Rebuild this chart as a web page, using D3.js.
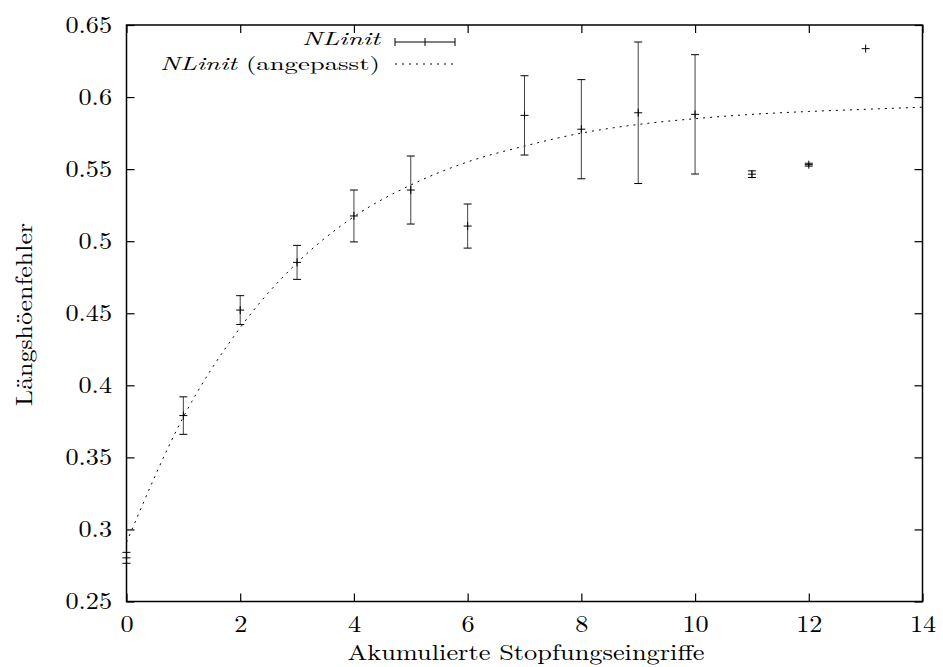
<!DOCTYPE html>
<html>
<head>
<meta charset="utf-8">
<script src="https://cdn.jsdelivr.net/npm/d3@7"></script>
<style>
  html, body { margin: 0; padding: 0; background: #fff; }
  svg { display: block; }
</style>
</head>
<body>
<svg id="chart" width="943" height="667"></svg>
<script>
// ---- data ----
const xTickValues = [0, 2, 4, 6, 8, 10, 12, 14];
const xTickLabels = ["0", "2", "4", "6", "8", "10", "12", "14"];
const yTickValues = [0.25, 0.30, 0.35, 0.40, 0.45, 0.50, 0.55, 0.60, 0.65];
const yTickLabels = ["0.25", "0.3", "0.35", "0.4", "0.45", "0.5", "0.55", "0.6", "0.65"];

const eingriffe = [0, 1, 2, 3, 4, 5, 6, 7, 8, 9, 10, 11, 12, 13];
const nlinitMean = [0.2803, 0.379, 0.4522, 0.4853, 0.5175, 0.5355, 0.5105, 0.5873, 0.5777, 0.5891, 0.588, 0.5465, 0.5531, 0.6336];
const nlinitErr  = [0.0038, 0.013, 0.0100, 0.0118, 0.018, 0.0236, 0.0153, 0.0275, 0.0344, 0.0491, 0.0414, 0.0023, 0.0010, 0.0];

const fitX   = [0, 1, 2, 3, 4, 5, 6, 7, 8, 9, 10, 11, 12, 13, 14];
const fitVal = [0.291, 0.378, 0.440, 0.485, 0.517, 0.539, 0.555, 0.566, 0.575, 0.581, 0.585, 0.588, 0.590, 0.5915, 0.593];

const xTitle = "Akumulierte Stopfungseingriffe";
const yTitle = "Längshöenfehler";
const legendMain = "NLinit";
const legendFitSuffix = " (angepasst)";

// ---- drawing ----
const FONT = '"Latin Modern Roman"';
const svg = d3.select("#chart");
const L = 126.5, R = 922.5, T = 25, B = 601.5;
const x = d3.scaleLinear().domain([0, 14]).range([L, R]);
const y = d3.scaleLinear().domain([0.25, 0.65]).range([B, T]);
const fontSize = 23;
const tickLen = 8;
const hStretch = 1.14;

function fontify(sel, size) {
  sel.style("font-family", FONT).style("font-size", size + "px").attr("fill", "#000");
}
function stretch(sel, factor) {
  sel.each(function () {
    const w = this.getComputedTextLength();
    d3.select(this).attr("textLength", w * factor).attr("lengthAdjust", "spacingAndGlyphs");
  });
}

// fitted curve (dashed)
const line = d3.line().x((d, i) => x(fitX[i])).y(d => y(d)).curve(d3.curveMonotoneX);
svg.append("path")
  .attr("d", line(fitVal))
  .attr("fill", "none")
  .attr("stroke", "#000")
  .attr("stroke-width", 1)
  .attr("stroke-dasharray", "2,5");

// error bars
const cap = 4;
const g = svg.append("g").attr("stroke", "#000").attr("stroke-width", 1).attr("fill", "none");
eingriffe.forEach((xv, i) => {
  const cx = x(xv), m = nlinitMean[i], e = nlinitErr[i];
  const y0 = y(m - e), y1 = y(m + e), cy = y(m);
  g.append("line").attr("x1", cx).attr("x2", cx).attr("y1", y0).attr("y2", y1).attr("stroke", "#444");
  if (e > 0) {
    g.append("line").attr("x1", cx - cap).attr("x2", cx + cap).attr("y1", y0).attr("y2", y0);
    g.append("line").attr("x1", cx - cap).attr("x2", cx + cap).attr("y1", y1).attr("y2", y1);
  }
  g.append("line").attr("x1", cx - cap).attr("x2", cx + cap).attr("y1", cy).attr("y2", cy);
  g.append("line").attr("x1", cx).attr("x2", cx).attr("y1", cy - cap).attr("y2", cy + cap);
});

// frame
svg.append("rect")
  .attr("x", L).attr("y", T).attr("width", R - L).attr("height", B - T)
  .attr("fill", "none").attr("stroke", "#000").attr("stroke-width", 1.5);

function styleAxis(sel) {
  sel.attr("font-family", null).attr("font-size", null);
  sel.select(".domain").remove();
  sel.selectAll(".tick line").attr("stroke", "#000").attr("stroke-width", 1.2);
  fontify(sel.selectAll("text"), fontSize);
}
const xb = svg.append("g").attr("transform", `translate(0,${B})`)
  .call(d3.axisBottom(x).tickValues(xTickValues).tickFormat((d, i) => xTickLabels[i]).tickSizeInner(-tickLen).tickPadding(22));
styleAxis(xb);
xb.selectAll("text").attr("dy", null).attr("y", 30);
stretch(xb.selectAll("text"), hStretch);

const xt = svg.append("g").attr("transform", `translate(0,${T})`)
  .call(d3.axisTop(x).tickValues(xTickValues).tickFormat("").tickSizeInner(-tickLen));
styleAxis(xt);

const yl = svg.append("g").attr("transform", `translate(${L},0)`)
  .call(d3.axisLeft(y).tickValues(yTickValues).tickFormat((d, i) => yTickLabels[i]).tickSizeInner(-tickLen).tickPadding(14));
styleAxis(yl);
yl.selectAll("text").attr("dy", null).attr("x", -14.5).attr("y", 7);
stretch(yl.selectAll("text"), hStretch);

const yr = svg.append("g").attr("transform", `translate(${R},0)`)
  .call(d3.axisRight(y).tickValues(yTickValues).tickFormat("").tickSizeInner(-tickLen));
styleAxis(yr);

// axis titles
const xt1 = svg.append("text")
  .attr("x", (L + R) / 2 + 1.5).attr("y", 660)
  .attr("text-anchor", "middle")
  .text(xTitle);
fontify(xt1, 21.5);
xt1.attr("textLength", 357).attr("lengthAdjust", "spacingAndGlyphs");

const yt1 = svg.append("text")
  .attr("transform", `translate(32,${(223 + 406) / 2}) rotate(-90)`)
  .attr("text-anchor", "middle")
  .text(yTitle);
fontify(yt1, fontSize);
yt1.attr("textLength", 183).attr("lengthAdjust", "spacingAndGlyphs");

// legend
const legendFont = 18;
const lx0 = 395, lx1 = 455, lxm = 425;
const ly1 = 42, ly2 = 64;
const lt1 = svg.append("text")
  .attr("x", 380).attr("y", 45).attr("text-anchor", "end")
  .style("font-style", "italic")
  .text(legendMain);
fontify(lt1, legendFont);
lt1.attr("textLength", 78).attr("lengthAdjust", "spacingAndGlyphs");
const lg = svg.append("g").attr("stroke", "#000").attr("stroke-width", 1);
lg.append("line").attr("x1", lx0).attr("x2", lx1).attr("y1", ly1).attr("y2", ly1);
[lx0, lxm, lx1].forEach(v => lg.append("line").attr("x1", v).attr("x2", v).attr("y1", ly1 - cap).attr("y2", ly1 + cap));

const t2 = svg.append("text")
  .attr("x", 380).attr("y", 69.5).attr("text-anchor", "end");
fontify(t2, legendFont);
t2.append("tspan").style("font-style", "italic").text(legendMain);
t2.append("tspan").text(legendFitSuffix);
t2.attr("textLength", 220).attr("lengthAdjust", "spacingAndGlyphs");
svg.append("line").attr("x1", lx0).attr("x2", lx1).attr("y1", ly2).attr("y2", ly2)
  .attr("stroke", "#000").attr("stroke-width", 1).attr("stroke-dasharray", "2,5");
</script>
</body>
</html>
